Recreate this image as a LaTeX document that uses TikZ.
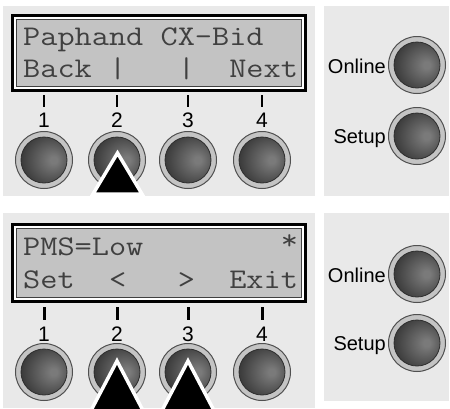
\documentclass[tikz,border=0pt]{standalone}
\usepackage{fontspec}
\newfontfamily\lcdfont{Latin Modern Mono}[FakeStretch=1.17]
\newfontfamily\labfont{Liberation Sans}
\definecolor{panelbg}{HTML}{E9E9E9}
\definecolor{lcdbg}{HTML}{C3C3C3}
\definecolor{lcdtext}{HTML}{404040}
\definecolor{ringc}{HTML}{C4C4C4}
\definecolor{ringedge}{HTML}{505050}
\definecolor{btnhi}{HTML}{7A7A7A}
\definecolor{btnlo}{HTML}{2E2E2E}
\pgfdeclareradialshading{btnshade}{\pgfpoint{9bp}{0bp}}{color(0bp)=(btnhi); color(3bp)=(btnhi); color(29bp)=(btnlo); color(50bp)=(btnlo)}
\tikzset{
  panel/.style={fill=panelbg, draw=none},
  lcdline/.style={font=\lcdfont\fontsize{28.5}{30}\selectfont, text=lcdtext, inner sep=0pt, anchor=base west},
  digit/.style={font=\labfont\fontsize{21}{22}\selectfont, text=black, inner sep=0pt, anchor=base},
  sidelabel/.style={font=\labfont\fontsize{20}{22}\selectfont, text=black, inner sep=0pt, anchor=base east},
  tick/.style={draw=black, line width=#1},
  btn/.style={circle, minimum size=57pt, inner sep=0pt, fill=ringc, draw=ringedge, line width=1pt,
    path picture={
      \shade[shading=btnshade] (path picture bounding box.center) circle[radius=23pt];
      \draw[btnlo, line width=0.8pt] (path picture bounding box.center) circle[radius=23pt];
    }},
  pressmark/.style={fill=black, draw=white, line width=3.5pt, line join=miter},
}
\begin{document}
\begin{tikzpicture}[x=1pt,y=-1pt]
\fill[white] (0,0) rectangle (450,408);
\useasboundingbox (0,0) rectangle (450,408);
\begin{scope}
\clip (0,0) rectangle (450,408);
% ---------- top section ----------
\fill[panel] (3,6) rectangle (315,196);
\fill[panel] (324,6) rectangle (449,196);
\draw[line width=3pt, draw=black, fill=white] (12.5,15.5) rectangle (305,90.5);
\draw[line width=1pt, draw=black!75, fill=lcdbg] (16.5,19.5) rectangle (301,86.5);
\node[lcdline] (t1) at (23,45) {Paphand~CX-Bid};
\node[lcdline] (t2) at (23,77) {Back~|~~~|~~Next};
\draw[tick=1.6pt] (44,95) -- (44,107);
\draw[tick=1.6pt] (117,95) -- (117,107);
\draw[tick=1.6pt] (188,95) -- (188,107);
\draw[tick=1.6pt] (262,95) -- (262,107);
\node[digit] (d1) at (44,127) {1};
\node[digit] (d2) at (117,127) {2};
\node[digit] (d3) at (188,127) {3};
\node[digit] (d4) at (262,127) {4};
\node[btn] (k1) at (44,160) {};
\node[btn] (k2) at (117,160) {};
\node[btn] (k3) at (188,160) {};
\node[btn] (k4) at (262,160) {};
\filldraw[pressmark] (117.5,153) -- (142,194) -- (93,194) -- cycle;
\node[btn] (on1) at (417,65) {};
\node[btn] (su1) at (417,136) {};
\node[sidelabel] (lon1) at (386,73) {Online};
\node[sidelabel] (lsu1) at (386,143) {Setup};
% ---------- bottom section ----------
\fill[panel] (3,213) rectangle (315,408);
\fill[panel] (324,213) rectangle (449,401);
\draw[line width=3pt, draw=black, fill=white] (12.5,224.5) rectangle (305,301.5);
\draw[line width=1pt, draw=black!75, fill=lcdbg] (16.5,228.5) rectangle (301,297.5);
\node[lcdline] (b1) at (23,255) {PMS=Low~~~~~~~~\raisebox{6pt}{*}};
\node[lcdline] (b2) at (23,288) {Set~~<~~~>~~Exit};
\draw[tick=3pt] (44,307) -- (44,320);
\draw[tick=3pt] (117,307) -- (117,320);
\draw[tick=3pt] (188,307) -- (188,320);
\draw[tick=3pt] (262,307) -- (262,320);
\node[digit] (e1) at (44,341) {1};
\node[digit] (e2) at (117,341) {2};
\node[digit] (e3) at (188,341) {3};
\node[digit] (e4) at (262,341) {4};
\node[btn] (m1) at (44,372) {};
\node[btn] (m2) at (117,372) {};
\node[btn] (m3) at (188,372) {};
\node[btn] (m4) at (262,372) {};
\filldraw[pressmark] (117,361) -- (148,420) -- (86,420) -- cycle;
\filldraw[pressmark] (188,361) -- (219,420) -- (157,420) -- cycle;
\node[btn] (on2) at (417,274) {};
\node[btn] (su2) at (417,343) {};
\node[sidelabel] (lon2) at (386,282) {Online};
\node[sidelabel] (lsu2) at (386,350) {Setup};
\end{scope}
\end{tikzpicture}
\end{document}
